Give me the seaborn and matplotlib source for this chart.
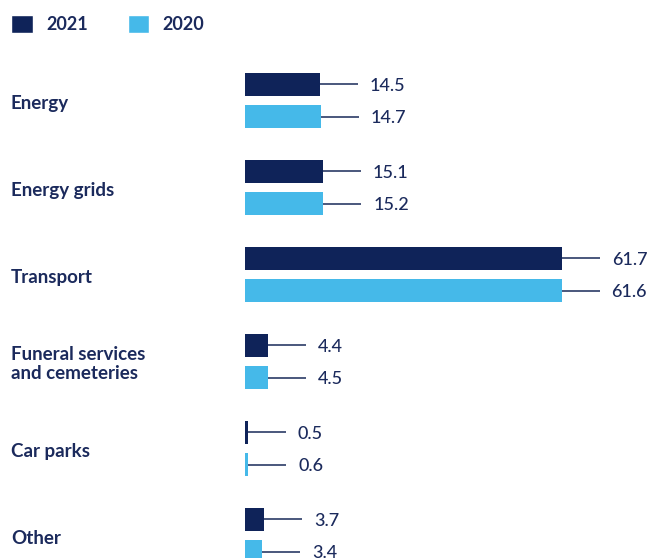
import numpy as np
import pandas as pd
import matplotlib
matplotlib.use("Agg")
from matplotlib import pyplot as plt
from matplotlib.patches import Patch
from matplotlib import transforms
import seaborn as sns

categories = ["Energy", "Energy grids", "Transport",
              "Funeral services\nand cemeteries", "Car parks", "Other"]
values_2021 = [14.5, 15.1, 61.7, 4.4, 0.5, 3.7]
values_2020 = [14.7, 15.2, 61.6, 4.5, 0.6, 3.4]
years = ["2021", "2020"]

NAVY = "#0f2359"
LIGHT = "#45b9e9"
TEXT = "#1b2a5c"
LINE = "#3c4a72"

df = pd.DataFrame({
    "category": categories * 2,
    "value": values_2021 + values_2020,
    "year": [years[0]] * len(categories) + [years[1]] * len(categories),
})

sns.set_style("white")
plt.rcParams["font.family"] = ["Lato", "DejaVu Sans"]

W, H = 648, 558
x0 = 245            # pixel where bars start
px_per_unit = 5.14
fig = plt.figure(figsize=(W / 100, H / 100), dpi=100)
ax = fig.add_axes([x0 / W, 0, (W - x0) / W, 1])

sns.barplot(data=df, y="category", x="value", hue="year", hue_order=years,
            palette=[NAVY, LIGHT], saturation=1, orient="h", width=0.736, gap=0.28,
            linewidth=0, legend=False, ax=ax)

ax.set_xlim(0, (W - x0) / px_per_unit)
group_px, first_px = 87.0, 100.5
ax.set_ylim((H - first_px) / group_px, -first_px / group_px)
ax.set_axis_off()

# leader lines + value labels
line_len = 38 / px_per_unit
text_off = 50 / px_per_unit
for p in ax.patches:
    v = p.get_width()
    yc = p.get_y() + p.get_height() / 2
    ax.plot([v, v + line_len], [yc, yc], color=LINE, lw=1.3, solid_capstyle="butt")
    ax.text(v + text_off, yc + 0.02, f"{v:.1f}", ha="left", va="center",
            fontsize=13, fontweight="medium", color=TEXT)

# category labels at the left edge of the figure
trans = transforms.blended_transform_factory(fig.transFigure, ax.transData)
for i, cat in enumerate(categories):
    ax.text(11 / W, i + 0.03, cat, transform=trans, ha="left", va="center",
            fontsize=13.5, fontweight="bold", color=TEXT, linespacing=1.15)

handles = [Patch(facecolor=NAVY, label=years[0]), Patch(facecolor=LIGHT, label=years[1])]
leg = fig.legend(handles=handles, loc="upper left", bbox_to_anchor=(0.0, 1 - 4 / H),
                 ncol=2, frameon=False, handlelength=1.2, handleheight=1.2,
                 handletextpad=0.75, columnspacing=2.2,
                 prop={"size": 13, "weight": "bold"}, borderaxespad=0.2)
for t in leg.get_texts():
    t.set_color(TEXT)

fig.savefig("out.png", dpi=100)
